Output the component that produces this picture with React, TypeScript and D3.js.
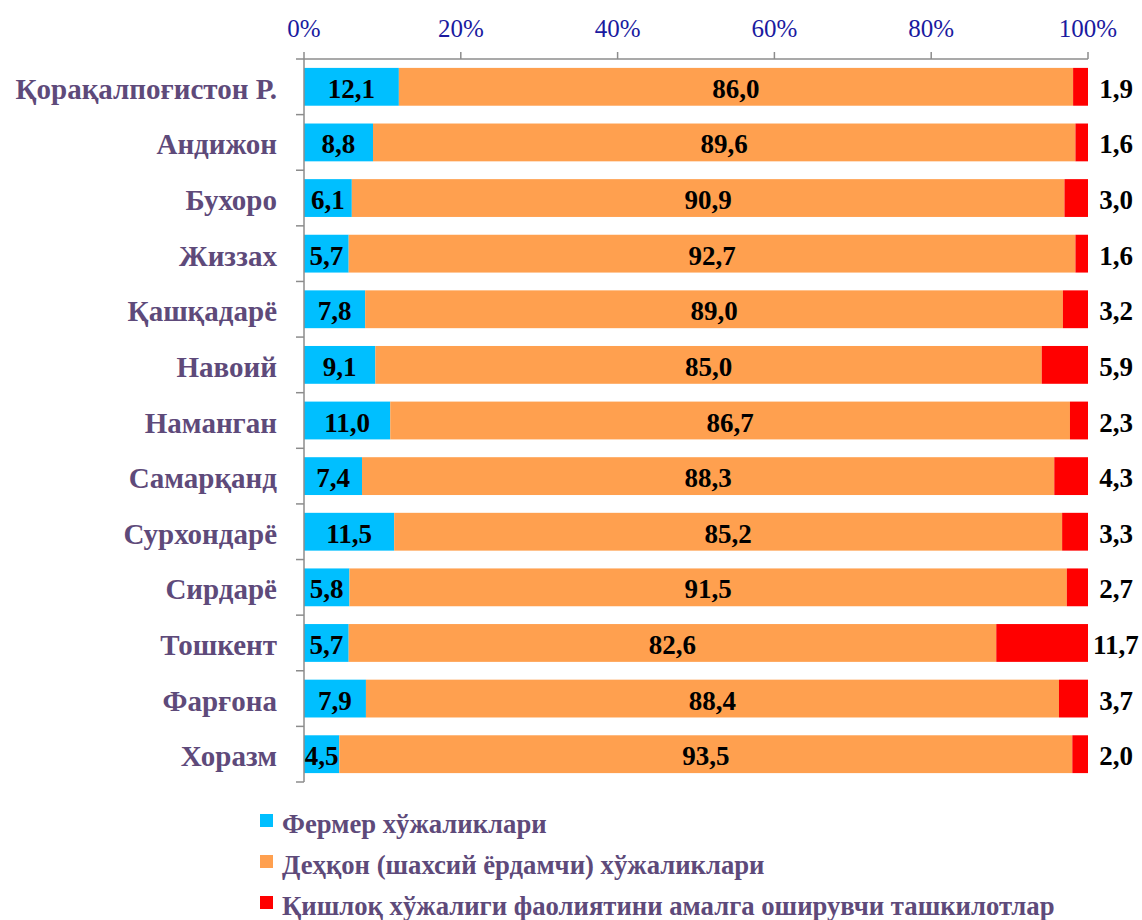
import React from "react";
import * as d3 from "d3";

const categories = [
  "Қорақалпоғистон Р.",
  "Андижон",
  "Бухоро",
  "Жиззах",
  "Қашқадарё",
  "Навоий",
  "Наманган",
  "Самарқанд",
  "Сурхондарё",
  "Сирдарё",
  "Тошкент",
  "Фарғона",
  "Хоразм",
];
const farmer = [12.1, 8.8, 6.1, 5.7, 7.8, 9.1, 11.0, 7.4, 11.5, 5.8, 5.7, 7.9, 4.5];
const dehqon = [86.0, 89.6, 90.9, 92.7, 89.0, 85.0, 86.7, 88.3, 85.2, 91.5, 82.6, 88.4, 93.5];
const agriOrg = [1.9, 1.6, 3.0, 1.6, 3.2, 5.9, 2.3, 4.3, 3.3, 2.7, 11.7, 3.7, 2.0];
const seriesNames = [
  "Фермер хўжаликлари",
  "Деҳқон (шахсий ёрдамчи) хўжаликлари",
  "Қишлоқ хўжалиги фаолиятини амалга оширувчи ташкилотлар",
];
const tickValues = [0, 20, 40, 60, 80, 100];

const W = 1142;
const H = 920;
const colors = ["#00BFFF", "#FFA04F", "#FF0000"];
const keys = ["farmer", "dehqon", "agri"];
const fmt = (v: number) => v.toFixed(1).replace(".", ",");

export default function App() {
  const rows = categories.map((c, i) => ({
    cat: c,
    farmer: farmer[i],
    dehqon: dehqon[i],
    agri: agriOrg[i],
  }));
  const stack = d3.stack<any>().keys(keys)(rows);
  const top = 59;
  const bottom = 782;
  const x = d3.scaleLinear().domain([0, 100]).range([304, 1088]);
  const y = d3
    .scaleBand<string>()
    .domain(categories)
    .range([top, bottom])
    .paddingInner(0.32)
    .paddingOuter(0.16);
  const step = y.step();
  const font = "'Liberation Serif', 'Times New Roman', serif";
  const labelColor = "#5E4A7A";
  const axisColor = "#8C8C8C";

  return (
    <svg
      width={W}
      height={H}
      style={{ position: "absolute", left: 0, top: 0, background: "#fff" }}
      fontFamily={font}
    >
      {/* bars */}
      {stack.map((s, si) =>
        s.map((d, i) => (
          <rect
            key={`${si}-${i}`}
            x={x(d[0])}
            y={y(categories[i])!}
            width={x(d[1]) - x(d[0])}
            height={y.bandwidth()}
            fill={colors[si]}
          />
        ))
      )}
      {/* top axis */}
      <line x1={x(0)} x2={x(100)} y1={top} y2={top} stroke={axisColor} strokeWidth={1.5} />
      {tickValues.map((t) => (
        <g key={t}>
          <line x1={x(t)} x2={x(t)} y1={top - 7} y2={top} stroke={axisColor} strokeWidth={1.5} />
          <text x={x(t)} y={37} textAnchor="middle" fontSize={25} fill="#1A1AA0">
            {t}%
          </text>
        </g>
      ))}
      {/* left axis */}
      <line x1={x(0)} x2={x(0)} y1={top} y2={bottom} stroke={axisColor} strokeWidth={1.5} />
      {d3.range(categories.length + 1).map((k) => (
        <line
          key={k}
          x1={296}
          x2={x(0)}
          y1={top + k * step}
          y2={top + k * step}
          stroke={axisColor}
          strokeWidth={1.5}
        />
      ))}
      {/* category labels */}
      {categories.map((c) => (
        <text
          key={c}
          x={277}
          y={y(c)! + y.bandwidth() / 2 + 12}
          textAnchor="end"
          fontSize={29}
          fontWeight="bold"
          fill={labelColor}
        >
          {c}
        </text>
      ))}
      {/* value labels */}
      {stack.map((s, si) =>
        s.map((d, i) => {
          const cy = y(categories[i])! + y.bandwidth() / 2 + 11;
          const v = d[1] - d[0];
          const cx = si < 2 ? (x(d[0]) + x(d[1])) / 2 : 1116;
          return (
            <text
              key={`l-${si}-${i}`}
              x={cx}
              y={cy}
              textAnchor="middle"
              fontSize={27}
              fontWeight="bold"
              fill="#000"
            >
              {fmt(v)}
            </text>
          );
        })
      )}
      {/* legend */}
      {seriesNames.map((n, i) => (
        <g key={n} transform={`translate(260, ${814 + i * 41})`}>
          <rect x={0} y={0} width={13} height={13} fill={colors[i]} />
          <text x={22} y={19} fontSize={26.7} fontWeight="bold" fill={labelColor}>
            {n}
          </text>
        </g>
      ))}
    </svg>
  );
}
